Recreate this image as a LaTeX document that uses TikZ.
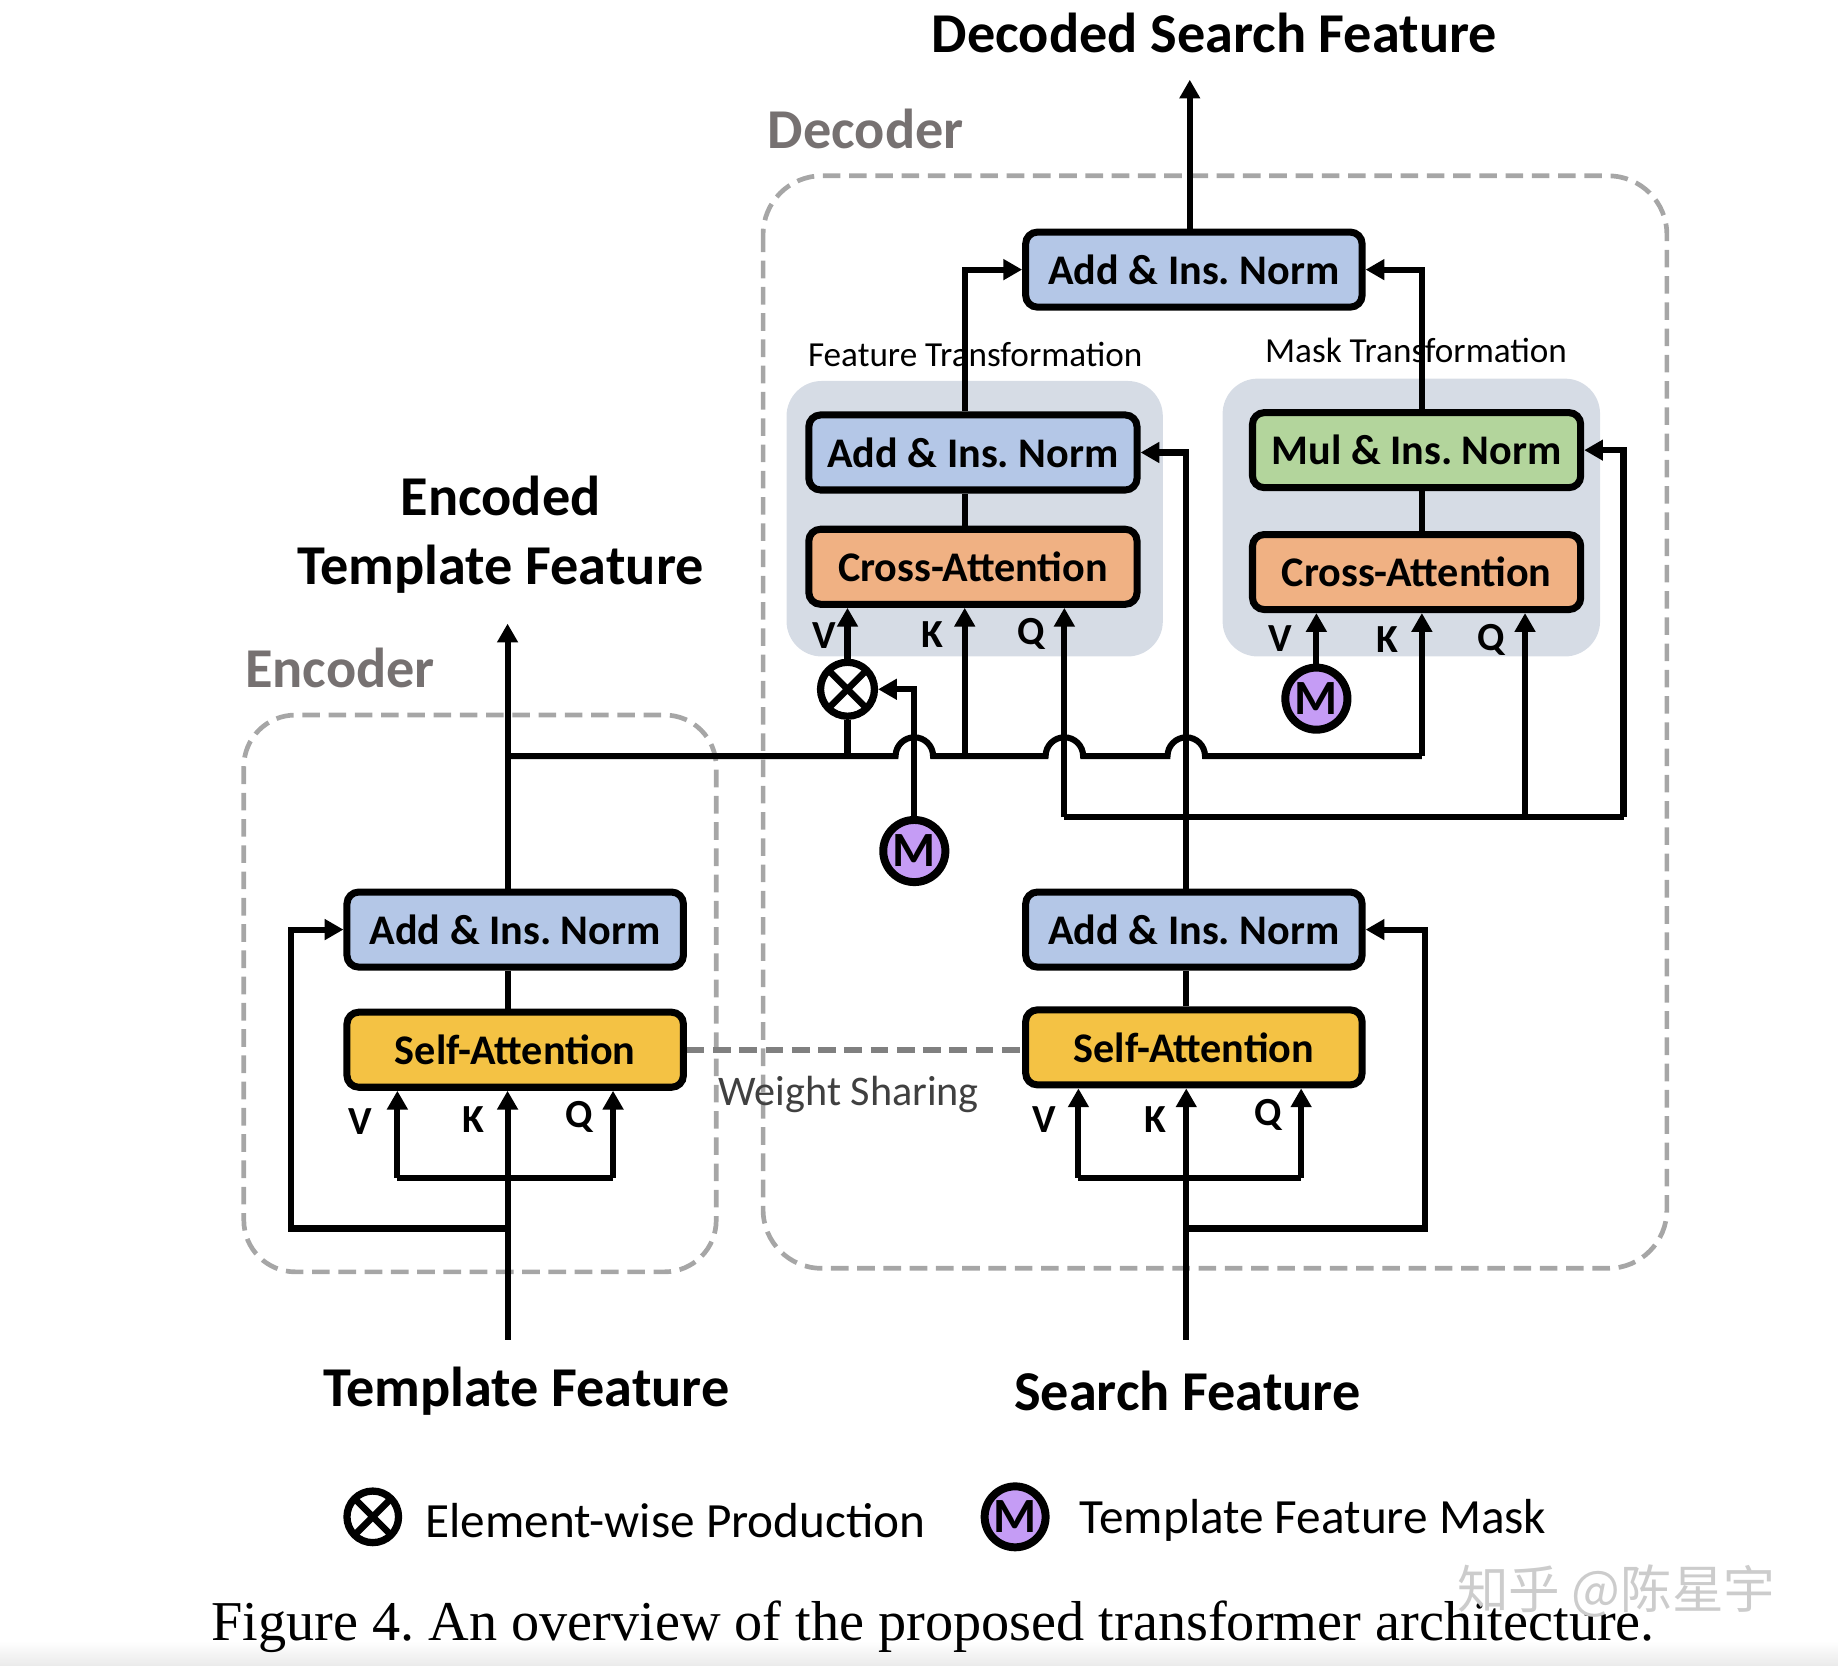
\documentclass[tikz,border=0pt]{standalone}
\usepackage{fontspec}
\setmainfont{Carlito}
\newfontfamily\capfont{Liberation Serif}
\newfontfamily\cjkfont{Noto Sans CJK SC}
\usetikzlibrary{arrows.meta,calc}
\definecolor{cblue}{HTML}{B4C7E7}
\definecolor{corange}{HTML}{F0B183}
\definecolor{cgreen}{HTML}{B3D59C}
\definecolor{cyellow}{HTML}{F4C244}
\definecolor{cpurple}{HTML}{C59CF5}
\definecolor{cbg}{HTML}{D6DCE5}
\definecolor{cdash}{HTML}{A6A6A6}
\definecolor{cwsh}{HTML}{808080}
\definecolor{clabel}{HTML}{767171}
\frenchspacing
\begin{document}
\begin{tikzpicture}[x=0.5pt,y=-0.5pt,
  ln/.style={line width=2.6pt},
  arr/.style={ln,-{Triangle[length=8pt,width=8.5pt]}},
  box/.style={draw=black,line width=3pt,rounded corners=5pt,minimum width=143.5pt,minimum height=32pt,inner sep=0pt,font=\fontsize{18}{18}\selectfont\bfseries},
  otim/.style={circle,draw=black,line width=3.1pt,fill=white,minimum size=23pt,inner sep=0pt,
    path picture={\draw[line width=2.8pt] (path picture bounding box.north west) -- (path picture bounding box.south east)
      (path picture bounding box.north east) -- (path picture bounding box.south west);}},
  mcirc/.style={circle,draw=black,line width=3.4pt,fill=cpurple,minimum size=26.5pt,inner sep=0pt,font=\fontsize{21}{21}\selectfont\bfseries},
  bigt/.style={font=\fontsize{24}{29.5}\selectfont\bfseries},
  vkq/.style={font=\fontsize{17}{17}\selectfont\bfseries},
  dbox/.style={draw=cdash,line width=2pt,dash pattern=on 7.5pt off 3.7pt}
]
\useasboundingbox (0,0) rectangle (1568,1421);
\shade[top color=white,bottom color=black!8] (0,1400) rectangle (1568,1421);

% backgrounds and group frames
\fill[cbg,rounded corners=15pt] (671,325) rectangle (992,560);
\fill[cbg,rounded corners=15pt] (1043,323) rectangle (1365,560);
\draw[dbox,rounded corners=25pt] (651,150) rectangle (1422,1082);
\draw[dbox,rounded corners=22pt] (208,610) rectangle (611,1085);

% texts
\node[bigt] (ttl) at (1036,28) {Decoded Search Feature};
\node[bigt,text=clabel,anchor=west] (dec) at (648,110) {Decoder};
\node[bigt,text=clabel,anchor=west] (enc) at (202,570) {Encoder};
\node[bigt,align=center] (etf) at (427,456) {Encoded\\Template Feature};
\node[bigt] (tfl) at (449,1187) {Template Feature};
\node[bigt] (sfl) at (1013,1187) {Search Feature};
\node[font=\fontsize{15}{15}\selectfont] (ftl) at (832,302) {Feature Transformation};
\node[font=\fontsize{15}{15}\selectfont] (mtl) at (1208,299) {Mask Transformation};
\node[font=\fontsize{18}{18}\selectfont,text=black!75,anchor=west] (wsl) at (606,934) {Weight Sharing};

% boxes
\node[box,fill=cblue] (topAN) at (1018.5,230) {Add \& Ins. Norm};
\node[box,fill=cblue,minimum width=140pt] (lAN) at (830,386) {Add \& Ins. Norm};
\node[box,fill=corange,minimum width=140pt] (lCA) at (830,483.5) {Cross-Attention};
\node[box,fill=cgreen,minimum width=140pt] (rMul) at (1208.5,384) {Mul \& Ins. Norm};
\node[box,fill=corange,minimum width=140pt] (rCA) at (1208.5,488) {Cross-Attention};
\node[box,fill=cblue] (eAN) at (439.5,793) {Add \& Ins. Norm};
\node[box,fill=cyellow] (eSA) at (439.5,895.5) {Self-Attention};
\node[box,fill=cblue] (sAN) at (1018.5,793) {Add \& Ins. Norm};
\node[box,fill=cyellow] (sSA) at (1018.5,893.5) {Self-Attention};

\node[otim] (ox) at (723,588) {};
\node[mcirc] (mL) at (780,726) {M};
\node[mcirc] (mR) at (1123,596) {M};

% V K Q labels
\node[vkq] (l1) at (703,542) {V};
\node[vkq] (l2) at (795,541) {K};
\node[vkq] (l3) at (880,541) {Q};
\node[vkq] (l4) at (1092,545) {V};
\node[vkq] (l5) at (1184,546) {K};
\node[vkq] (l6) at (1272,546) {Q};
\node[vkq] (l7) at (307,957) {V};
\node[vkq] (l8) at (404,955) {K};
\node[vkq] (l9) at (494,953) {Q};
\node[vkq] (l10) at (891,955) {V};
\node[vkq] (l11) at (986,955) {K};
\node[vkq] (l12) at (1082,951) {Q};

% coordinates
\coordinate (tin) at (433,1143);
\coordinate (tout) at (433,532);
\coordinate (tV) at (339,1005);
\coordinate (tQ) at (523,1005);
\coordinate (tres) at (248,1048);
\coordinate (hj) at (433,645);
\coordinate (sin) at (1012,1143);
\coordinate (sV) at (920,1005);
\coordinate (sQ) at (1110,1005);
\coordinate (sres) at (1216,1048);
\coordinate (qj) at (1012,697);
\coordinate (qL) at (908,697);
\coordinate (qR) at (1301,697);
\coordinate (qM) at (1385,697);
\coordinate (kL) at (823,645);
\coordinate (kR) at (1213,645);
\coordinate (vL) at (723,645);
\coordinate (dout) at (1015,68);

% weight sharing
\draw[draw=cwsh,line width=2.4pt,dash pattern=on 7.5pt off 3.7pt] (eSA.east) -- (eSA.east -| sSA.west);

% encoder
\draw[arr] (tin) -- (tin |- eSA.south);
\draw[ln] (tV) -- (tQ);
\draw[arr] (tV) -- (tV |- eSA.south);
\draw[arr] (tQ) -- (tQ |- eSA.south);
\draw[ln] (tin |- eSA.north) -- (tin |- eAN.south);
\draw[arr] (tin |- eAN.north) -- (tout);
\draw[arr] (tin |- tres) -- (tres) |- (eAN.west);

% search branch
\draw[arr] (sin) -- (sin |- sSA.south);
\draw[ln] (sV) -- (sQ);
\draw[arr] (sV) -- (sV |- sSA.south);
\draw[arr] (sQ) -- (sQ |- sSA.south);
\draw[ln] (sin |- sSA.north) -- (sin |- sAN.south);
\draw[arr] (sin |- sres) -- (sres) |- (sAN.east);
\draw[arr] (sin |- sAN.north) |- (lAN.east);

% query lines
\draw[ln] (qL) -- (qM);
\draw[arr] (qL) -- (qL |- lCA.south);
\draw[arr] (qR) -- (qR |- rCA.south);
\draw[arr] (qM) |- (rMul.east);

% template feature line with hops
\draw[ln] (hj) -- ($(mL.north |- hj)+(-16,0)$) arc[start angle=180,end angle=0,radius=8pt]
  -- ($(qL |- hj)+(-16,0)$) arc[start angle=180,end angle=0,radius=8pt]
  -- ($(qj |- hj)+(-16,0)$) arc[start angle=180,end angle=0,radius=8pt]
  -- (kR);
\draw[arr] (kR) -- (kR |- rCA.south);
\draw[arr] (kL) -- (kL |- lCA.south);
\draw[ln] (vL) -- (ox.south);
\draw[arr] (ox.north) -- (ox.north |- lCA.south);
\draw[arr] (mL.north) |- (ox.east);
\draw[arr] (mR.north) -- (mR.north |- rCA.south);

% decoder stacks
\draw[ln] (kL |- lCA.north) -- (kL |- lAN.south);
\draw[arr] (kL |- lAN.north) |- (topAN.west);
\draw[ln] (kR |- rCA.north) -- (kR |- rMul.south);
\draw[arr] (kR |- rMul.north) |- (topAN.east);
\draw[arr] (topAN.north -| dout) -- (dout);

% legend
\node[otim,minimum size=22pt] (lgx) at (318,1294) {};
\node[anchor=west,font=\fontsize{21}{21}\selectfont] (lgxt) at (356,1297) {Element-wise Production};
\node[mcirc,minimum size=26pt] (lgm) at (866,1294) {M};
\node[anchor=west,font=\fontsize{21}{21}\selectfont] (lgmt) at (914,1297) {Template Feature Mask};

% caption
\node[font=\capfont\fontsize{24}{24}\selectfont] (cap) at (796,1388) {Figure 4. An overview of the proposed transformer architecture.};
\node[font=\cjkfont\fontsize{22}{22}\selectfont,text=black!20,anchor=west] (wm) at (1236,1357) {知乎 @陈星宇};
\end{tikzpicture}
\end{document}
